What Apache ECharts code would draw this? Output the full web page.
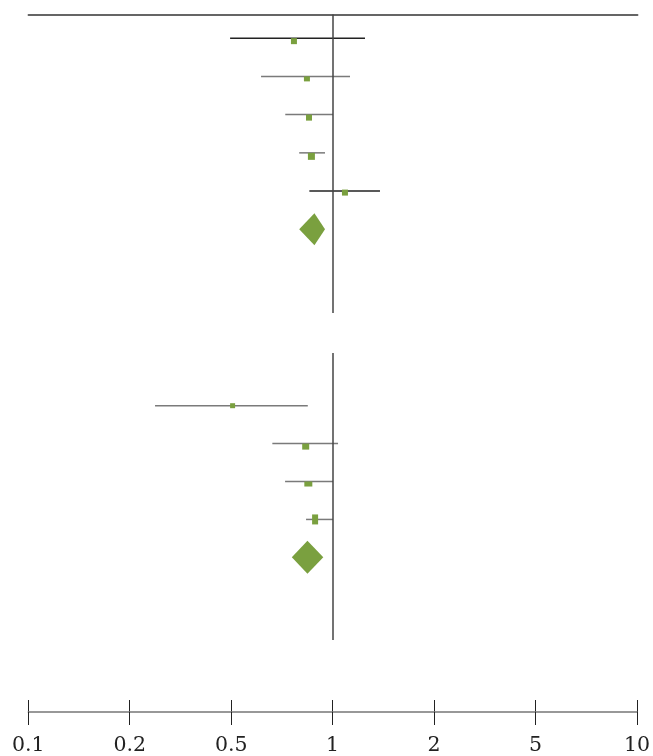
<html>
<head>
<meta charset="utf-8">
<title>forest plot</title>
<script src="https://cdn.jsdelivr.net/npm/echarts@6/dist/echarts.min.js"></script>
<style>
  html, body { margin: 0; padding: 0; background: #fff; }
  #main { width: 653px; height: 756px; }
</style>
</head>
<body>
<div id="main"></div>
<script type="text/javascript">
// axis ticks (evenly spaced on the page)
var tickLabels = ['0.1', '0.2', '0.5', '1', '2', '5', '10'];
var tickValues = [0.1, 0.2, 0.5, 1, 2, 5, 10];

// upper panel: study estimates and 95% CI
var estA  = [0.766, 0.837, 0.849, 0.863, 1.085];
var lowA  = [0.494, 0.612, 0.722, 0.794, 0.851];
var highA = [1.244, 1.123, 1.000, 0.947, 1.378];
var pooledA = [0.794, 0.881, 0.947];   // low, est, high

// lower panel
var estB  = [0.504, 0.830, 0.845, 0.885];
var lowB  = [0.251, 0.661, 0.721, 0.832];
var highB = [0.842, 1.035, 1.000, 1.000];
var pooledB = [0.755, 0.840, 0.936];

// ratio -> position on the evenly spaced tick scale
function toPos(v) {
    for (var i = 0; i < tickValues.length - 1; i++) {
        if (v <= tickValues[i + 1]) {
            return i + Math.log(v / tickValues[i]) / Math.log(tickValues[i + 1] / tickValues[i]);
        }
    }
    return tickValues.length - 1;
}

var green = '#7aa03f';
// styling per row
var lineColA = ['#222', '#7a7a7a', '#7a7a7a', '#7a7a7a', '#222'];
var boxA = [[6, 6], [6, 5], [6, 6], [7, 7], [6, 6]];
var offA = [3, 2.5, 3, 3.5, 1.5];
var lineColB = ['#7a7a7a', '#7a7a7a', '#7a7a7a', '#7a7a7a'];
var boxB = [[5, 5], [7, 6], [8, 5], [6, 10]];
var offB = [0, 3, 2.5, 0];

function ciSeries(gi, low, high, cols) {
    var d = [];
    for (var i = 0; i < low.length; i++) d.push([toPos(low[i]), toPos(high[i]), i + 1, i]);
    return {
        type: 'custom', xAxisIndex: gi, yAxisIndex: gi, silent: true,
        encode: { x: [0, 1], y: 2 },
        data: d,
        renderItem: function (params, api) {
            var p1 = api.coord([api.value(0), api.value(2)]);
            var p2 = api.coord([api.value(1), api.value(2)]);
            return {
                type: 'line',
                shape: { x1: p1[0], y1: p1[1], x2: p2[0], y2: p2[1] },
                style: { stroke: cols[api.value(3)], lineWidth: 1.5 }
            };
        },
        markLine: {
            silent: true, symbol: 'none', label: { show: false },
            lineStyle: { color: '#444', width: 1.5, type: 'solid' },
            data: [{ xAxis: toPos(1) }]
        }
    };
}

function boxSeries(gi, est, sizes, offs) {
    var d = [];
    for (var i = 0; i < est.length; i++) {
        d.push({ value: [toPos(est[i]), i + 1], symbolSize: sizes[i], symbolOffset: [0, offs[i]] });
    }
    return {
        type: 'scatter', xAxisIndex: gi, yAxisIndex: gi, silent: true,
        symbol: 'rect', itemStyle: { color: green, opacity: 1 }, data: d
    };
}

function diamondSeries(gi, pooled, row, halfH) {
    return {
        type: 'custom', xAxisIndex: gi, yAxisIndex: gi, silent: true,
        data: [[toPos(pooled[0]), toPos(pooled[1]), toPos(pooled[2]), row]],
        renderItem: function (params, api) {
            var l = api.coord([api.value(0), api.value(3)]);
            var c = api.coord([api.value(1), api.value(3)]);
            var r = api.coord([api.value(2), api.value(3)]);
            return {
                type: 'polygon',
                shape: { points: [[l[0], l[1]], [c[0], c[1] - halfH], [r[0], r[1]], [c[0], c[1] + halfH]] },
                style: { fill: green }
            };
        }
    };
}

var myChart = echarts.init(document.getElementById('main'));
var hiddenX = { type: 'value', min: 0, max: 6, show: false };
var option = {
    animation: false,
    grid: [
        { left: 28.3, width: 609.4, top: 14.5, height: 298.5 },
        { left: 28.3, width: 609.4, top: 353, height: 287 },
        { left: 28.3, width: 609.4, top: 700, height: 13.5 }
    ],
    xAxis: [
        {
            gridIndex: 0, type: 'value', min: 0, max: 6, position: 'top',
            axisLine: { show: true, lineStyle: { color: '#333', width: 1.5 } },
            axisTick: { show: false }, axisLabel: { show: false }, splitLine: { show: false }
        },
        echarts.util.extend({ gridIndex: 1 }, hiddenX),
        {
            gridIndex: 2, type: 'value', min: 0, max: 6, interval: 1, position: 'bottom',
            axisLine: { show: true, lineStyle: { color: '#777', width: 1.5 } },
            axisTick: { show: true, length: 13, lineStyle: { color: '#222', width: 1 } },
            splitLine: { show: true, lineStyle: { color: '#222', width: 1 } },
            axisLabel: {
                margin: 23, color: '#222', fontFamily: 'DejaVu Serif', fontSize: 20.5,
                formatter: function (v) { return tickLabels[Math.round(v)]; }
            }
        }
    ],
    yAxis: [
        { gridIndex: 0, type: 'value', inverse: true, min: 0.381, max: 8.189, show: false },
        { gridIndex: 1, type: 'value', inverse: true, min: -0.39, max: 7.18, show: false },
        { gridIndex: 2, type: 'value', min: 0, max: 1, show: false }
    ],
    series: [
        ciSeries(0, lowA, highA, lineColA),
        boxSeries(0, estA, boxA, offA),
        diamondSeries(0, pooledA, 6, 16),
        ciSeries(1, lowB, highB, lineColB),
        boxSeries(1, estB, boxB, offB),
        diamondSeries(1, pooledB, 5, 16.5)
    ]
};
myChart.setOption(option);
</script>
</body>
</html>
